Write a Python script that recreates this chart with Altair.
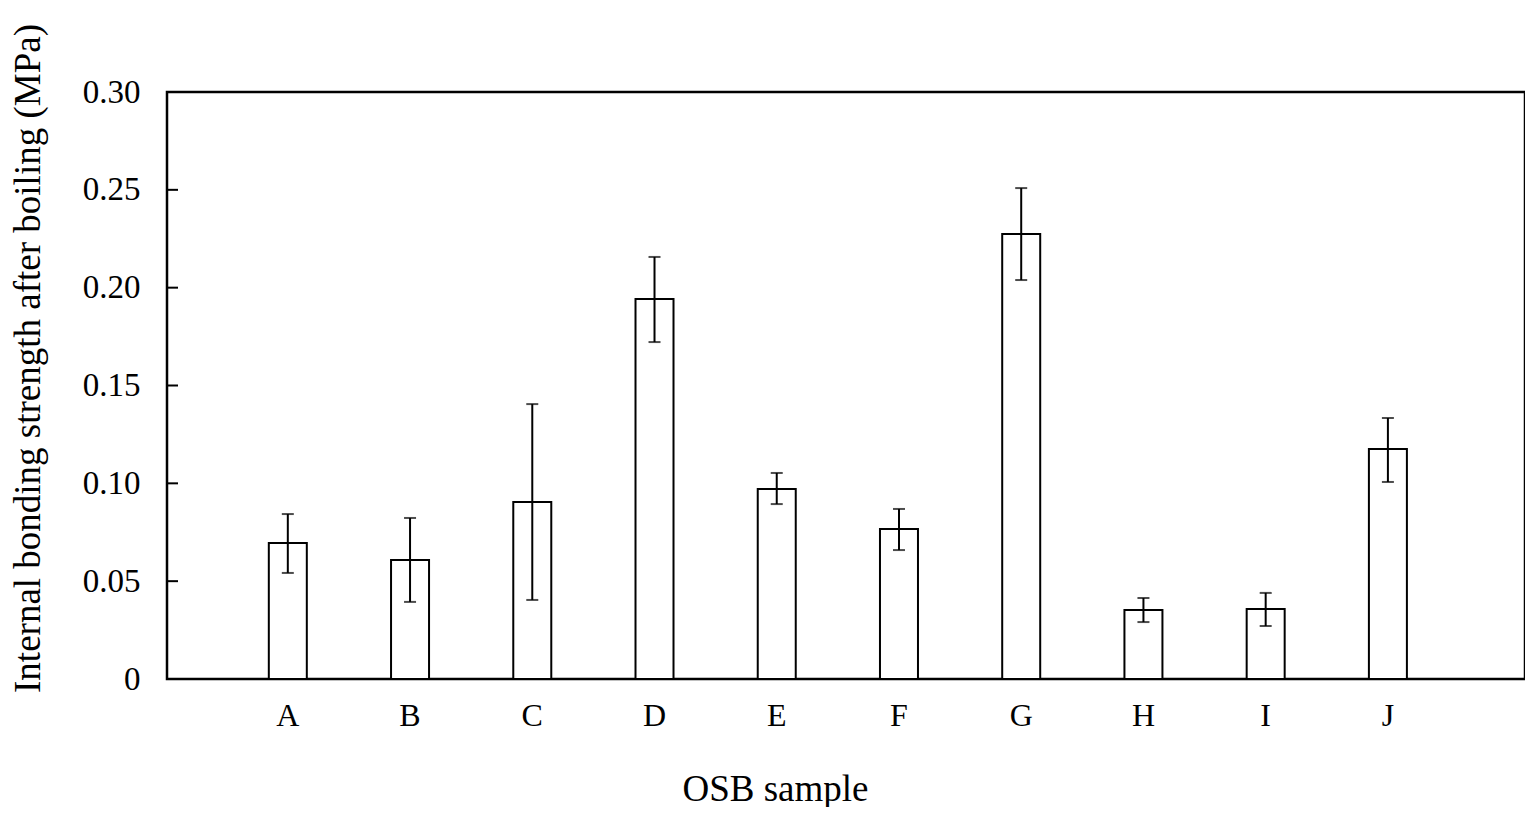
import altair as alt
import pandas as pd

categories = ["A", "B", "C", "D", "E", "F", "G", "H", "I", "J"]
means = [0.0695, 0.0608, 0.0905, 0.1942, 0.0971, 0.0767, 0.2274, 0.0353, 0.0358, 0.1175]
err_hi = [0.0843, 0.0823, 0.1405, 0.2157, 0.1053, 0.0869, 0.2509, 0.0414, 0.0440, 0.1334]
err_lo = [0.0542, 0.0394, 0.0404, 0.1722, 0.0894, 0.0659, 0.2039, 0.0291, 0.0271, 0.1007]
y_ticks = [0, 0.05, 0.10, 0.15, 0.20, 0.25, 0.30]

df = pd.DataFrame({"cat": categories, "mean": means, "hi": err_hi, "lo": err_lo})
ticks_df = pd.DataFrame({"v": y_ticks})

FONT = "Liberation Serif"

xscale = alt.Scale(domain=categories, paddingInner=0, paddingOuter=0.555, align=0.44)
yscale = alt.Scale(domain=[0, 0.30], nice=False, zero=True)

x_enc = alt.X("cat:N", scale=xscale, sort=categories,
              axis=alt.Axis(title="OSB sample", labelAngle=0, ticks=False, domain=False,
                            labelPadding=21, labelFontSize=32, labelFont=FONT, labelColor="black",
                            titleFontSize=37, titleFont=FONT, titleFontWeight="normal", titleColor="black",
                            titleX=608, titleY=121, titleAnchor="middle", titleAlign="center",
                            titleBaseline="alphabetic"))
y_enc = alt.Y("mean:Q", scale=yscale,
              axis=alt.Axis(title="Internal bonding strength after boiling (MPa)", values=y_ticks,
                            labelExpr="datum.value == 0 ? '0' : format(datum.value, '.2f')",
                            ticks=False, domain=False, grid=False, labelPadding=27,
                            labelFontSize=33, labelFont=FONT, labelColor="black",
                            titleFontSize=37, titleFont=FONT, titleFontWeight="normal", titleColor="black",
                            titleX=-139, titleY=266, titleAngle=-90, titleAlign="center",
                            titleBaseline="middle"))

bars = alt.Chart(df).mark_bar(size=38, fill="white", stroke="black", strokeWidth=2).encode(
    x=x_enc, y=y_enc)

rules = alt.Chart(df).mark_rule(color="black", strokeWidth=2).encode(
    x=alt.X("cat:N", scale=xscale, sort=categories),
    y=alt.Y("lo:Q", scale=yscale), y2="hi:Q")

cap_hi = alt.Chart(df).mark_tick(color="black", thickness=2, size=12, orient="horizontal").encode(
    x=alt.X("cat:N", scale=xscale, sort=categories), y=alt.Y("hi:Q", scale=yscale))
cap_lo = alt.Chart(df).mark_tick(color="black", thickness=2, size=12, orient="horizontal").encode(
    x=alt.X("cat:N", scale=xscale, sort=categories), y=alt.Y("lo:Q", scale=yscale))

yticks = alt.Chart(ticks_df).mark_rule(color="black", strokeWidth=2).encode(
    y=alt.Y("v:Q", scale=yscale), x=alt.value(0), x2=alt.value(11))

chart = alt.layer(bars, rules, cap_hi, cap_lo, yticks).properties(
    width=1358, height=587,
    autosize=alt.AutoSizeParams(type="none"),
    padding={"left": 159, "top": 84, "right": 0, "bottom": 128},
    background="white",
).configure_view(stroke="black", strokeWidth=2.5)

chart.save("out.html", embed_options={"renderer": "svg", "actions": False})
